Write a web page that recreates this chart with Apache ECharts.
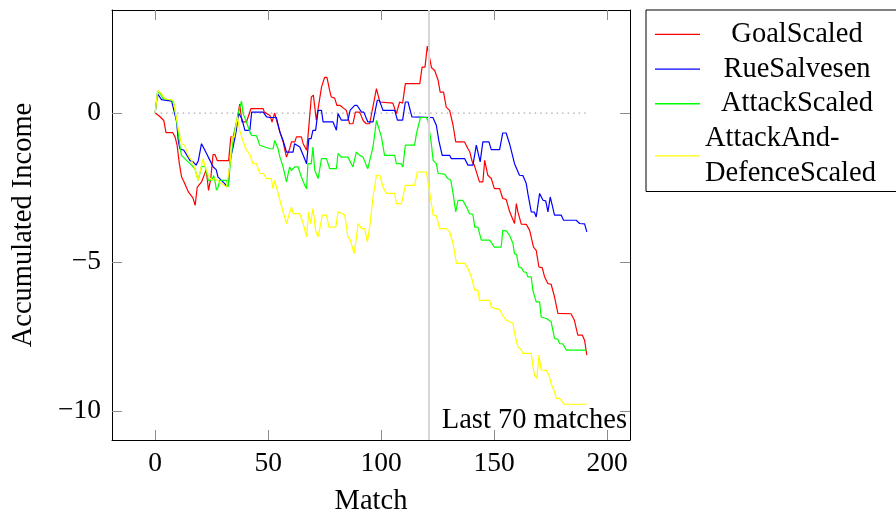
<!DOCTYPE html>
<html>
<head>
<meta charset="utf-8">
<script src="https://cdn.jsdelivr.net/npm/echarts@6/dist/echarts.min.js"></script>
<style>html,body{margin:0;padding:0;background:#fff}#c{width:896px;height:514px}</style>
</head>
<body>
<div id="c"></div>
<script>
// ---- data (match index, accumulated income) ----
const seriesNames = ['GoalScaled', 'RueSalvesen', 'AttackScaled', 'AttackAndDefenceScaled'];
const xTicks = [0, 50, 100, 150, 200];
const yTicks = [-10, -5, 0];
const lastSplitMatch = 121;
const zeroLine = [[0, 0], [191, 0]];

const goalScaled = [[0,0],[1.8,-0.1],[3.8,-0.25],[4.8,-0.66],[7.8,-0.66],[8.8,-0.8],[9.7,-1.08],[10.7,-1.7],[11.7,-2.15],[12.7,-2.3],[14.7,-2.65],[16.7,-2.85],[17.7,-3.1],[18.6,-2.5],[20.6,-2.3],[22.6,-1.9],[23.6,-2.6],[24.6,-2.2],[25.6,-1.4],[26.5,-1.4],[27.5,-1.6],[32.5,-1.6],[33.5,-0.8],[34.5,-0.8],[36.4,-0.2],[37.4,0.3],[38.4,-0.3],[40.4,-0.3],[42.4,0.15],[47.8,0.15],[48.3,0.03],[50.8,-0.08],[51.7,-0.3],[52.9,0],[53.6,-0.2],[55.2,-0.64],[56.6,-0.97],[58.1,-1.48],[58.8,-1.48],[59.5,-1.2],[60.3,-0.97],[61.8,-0.97],[62.5,-0.8],[64.7,-0.8],[65.5,-1.03],[67.0,-1.25],[67.6,-0.8],[69.1,0.54],[70.0,0.6],[71.3,-0.24],[72.0,-0.3],[73.6,0.87],[75.0,1.2],[76.0,1.2],[77.2,0.76],[77.9,0.54],[79.4,0.5],[80.4,0.26],[81.7,0.26],[84.6,0.09],[86.0,-0.36],[87.5,-0.36],[88.6,0.03],[90.5,0.03],[92.0,-0.25],[93.4,-0.36],[94.9,-0.36],[95.7,-0.3],[97.9,0.82],[98.6,0.8],[99.4,0.37],[105.2,0.33],[106.7,-0.02],[108.2,0.37],[109.5,0.33],[110.7,0.99],[117.1,0.99],[118.1,1.54],[119.4,1.54],[120.4,2.25],[121.2,2.25],[122.3,1.52],[123.7,1.43],[125.2,1.1],[126.1,0.7],[127.6,0.7],[128.8,0.2],[130.3,0.09],[131.8,-0.41],[133.0,-0.97],[136.9,-0.97],[138.4,-1.2],[139.2,-1.3],[140.3,-1.64],[141.2,-1.75],[143.5,-2.31],[145.0,-2.31],[145.8,-1.59],[147.2,-2.09],[148.7,-2.2],[150.1,-2.54],[152.4,-2.54],[153.8,-2.87],[155.3,-2.9],[156.8,-3.3],[158.4,-3.6],[159.0,-3.71],[159.8,-3.04],[160.5,-3.32],[162.0,-3.73],[164.2,-3.74],[165.7,-3.94],[166.4,-3.94],[167.4,-4.5],[168.6,-4.61],[169.8,-5.17],[171.3,-5.2],[172.3,-5.5],[173.8,-5.73],[175.2,-5.75],[176.7,-6.17],[178.2,-6.73],[184.0,-6.74],[185.5,-6.96],[187.0,-7.46],[189.0,-7.46],[190.0,-7.63],[191,-8.13]];

const rueSalvesen = [[0,0],[1,0.65],[2.8,0.45],[7.3,0.4],[9.5,-0.3],[10.2,-0.9],[10.9,-1.2],[12.7,-1.25],[15.4,-1.59],[16.8,-1.64],[18.1,-1.75],[19.1,-1.6],[20.5,-1.03],[21.1,-1.05],[22.0,-1.25],[23.5,-1.48],[25.7,-1.81],[27.0,-1.9],[27.8,-2.15],[29.3,-2.26],[30.8,-2.37],[31.6,-2.48],[32.5,-2.3],[33.1,-1.6],[34.5,-1.14],[35.9,-0.58],[36.9,0],[37.7,0.05],[38.4,-0.2],[39.7,-0.58],[41.9,-0.58],[42.7,0.03],[47.8,0.03],[49.3,-0.13],[50.8,-0.15],[53.6,-0.15],[55.2,-0.64],[56.6,-0.92],[58.1,-1.31],[61.0,-1.31],[61.7,-1.03],[64.0,-1.14],[65.5,-1.42],[67.0,-1.7],[68.0,-0.86],[69.0,-0.86],[69.8,-0.58],[71.0,-0.58],[72.1,0.09],[73.6,0.09],[74.3,-0.3],[78.7,-0.3],[80.2,-0.58],[80.9,-0.02],[82.4,-0.24],[85.3,-0.24],[86.3,0.1],[88.3,0.26],[89.3,0.26],[91.3,0.03],[92.3,0.03],[94.1,-0.3],[96.4,-0.3],[98.3,0.43],[99.2,0.43],[100.8,0.09],[106.0,0.09],[107.2,-0.24],[109.5,-0.24],[110.7,0.37],[111.9,0.37],[113.6,-0.13],[122.9,-0.15],[124.4,-0.41],[125.5,-0.92],[127.0,-1.42],[130.3,-1.42],[131.0,-1.53],[136.9,-1.53],[138.4,-1.75],[140.6,-1.75],[142.1,-1.08],[142.8,-1.08],[143.8,-1.64],[145.0,-0.97],[147.7,-0.97],[148.7,-1.23],[152.4,-1.23],[153.8,-0.67],[155.3,-0.67],[156.8,-1.03],[158.3,-1.48],[159.0,-1.7],[161.2,-2.09],[162.7,-2.1],[164.2,-2.37],[164.9,-2.7],[166.4,-3.32],[167.8,-3.33],[168.6,-3.49],[170.1,-2.7],[170.8,-2.7],[171.6,-2.93],[172.8,-2.95],[173.8,-3.32],[174.8,-2.82],[175.7,-3.1],[176.7,-3.43],[179.7,-3.43],[180.7,-3.6],[186.3,-3.6],[187.8,-3.71],[190.0,-3.72],[191,-3.99]];

const attackScaled = [[0,0],[1.1,0.73],[2.3,0.65],[3.5,0.48],[7.3,0.43],[8.3,0.3],[9.5,-0.24],[10.1,-0.58],[10.9,-1.08],[11.6,-1.42],[13.1,-1.53],[14.6,-1.64],[16.1,-1.75],[17.6,-1.87],[19.0,-2.26],[19.6,-2.26],[20.5,-1.81],[22.0,-1.78],[22.6,-1.95],[23.5,-2.26],[25.1,-2.26],[25.9,-2.1],[26.5,-2.3],[27.1,-2.59],[27.8,-2.5],[28.6,-2.26],[31.6,-2.26],[32.3,-2.48],[33.1,-1.81],[34.5,-0.86],[35.2,-0.84],[36.7,-0.02],[38.2,0.4],[38.9,-0.02],[40.4,-0.3],[41.9,-0.64],[42.7,-0.75],[44.8,-0.76],[46.3,-1.08],[48.5,-1.14],[50.8,-1.2],[52.2,-1.2],[52.9,-0.92],[53.6,-0.92],[54.4,-1.2],[55.2,-1.48],[56.6,-1.81],[58.1,-2.31],[58.8,-2.31],[59.5,-1.81],[60.3,-1.93],[61.0,-1.95],[61.7,-1.81],[63.2,-1.81],[64.7,-2.15],[66.2,-2.43],[67.0,-2.54],[67.6,-1.7],[69.1,-1.7],[69.8,-1.14],[70.6,-1.92],[72.1,-2.2],[72.8,-2.2],[73.6,-1.53],[75.8,-1.53],[77.2,-1.87],[80.2,-1.87],[80.9,-1.36],[82.4,-1.48],[85.3,-1.48],[87.5,-1.81],[89.0,-1.31],[90.5,-1.42],[92.0,-1.48],[93.4,-1.75],[94.1,-1.87],[94.9,-1.87],[96.4,-1.14],[97.9,-0.25],[98.7,-0.22],[100.1,-0.8],[101.5,-1.42],[106.0,-1.42],[106.7,-1.7],[108.8,-1.7],[109.6,-1.81],[110.7,-1.08],[114.8,-1.08],[115.6,-0.69],[117.4,-0.15],[120.0,-0.15],[120.7,-0.25],[122.2,-1.03],[123.0,-1.59],[124.4,-1.7],[125.2,-2.03],[125.8,-2.05],[128.1,-2.05],[129.5,-2.2],[130.8,-2.25],[131.8,-2.7],[133.0,-3.32],[134.0,-2.93],[136.1,-2.93],[137.7,-3.15],[139.1,-3.38],[140.6,-3.4],[141.4,-3.83],[142.8,-3.83],[144.3,-4.27],[148.0,-4.27],[150.1,-4.5],[153.1,-4.5],[153.8,-3.94],[155.3,-3.96],[156.8,-4.1],[158.3,-4.38],[159.0,-4.72],[159.9,-4.75],[160.9,-5.17],[162.1,-5.2],[163.0,-5.33],[164.2,-5.35],[164.9,-5.5],[166.4,-5.5],[167.1,-5.95],[168.6,-6.34],[170.1,-6.34],[170.8,-6.85],[173.1,-6.9],[175.2,-7.01],[176.7,-7.57],[178.2,-7.6],[178.9,-7.74],[180.4,-7.75],[181.9,-7.96],[191,-7.96]];

const attackAndDefenceScaled = [[0,0],[1.1,0.76],[2.8,0.65],[4.3,0.48],[8.0,0.43],[10.1,-0.47],[11.6,-1.03],[13.1,-1.08],[14.6,-1.42],[16.1,-1.59],[17.6,-1.87],[19.0,-2.26],[20.1,-1.9],[21.2,-1.53],[22.1,-1.8],[23.5,-2.09],[25.0,-2.26],[26.5,-2.2],[29.3,-2.37],[31.6,-2.48],[32.3,-2.52],[33.1,-1.7],[34.1,-0.8],[35.0,-0.8],[36.4,-0.13],[37.4,-0.58],[38.9,-0.95],[40.4,-1.25],[41.9,-1.4],[43.3,-1.7],[44.8,-1.7],[46.3,-2.03],[47.8,-2.03],[49.3,-2.2],[51.4,-2.2],[52.1,-2.54],[52.9,-2.26],[53.6,-2.26],[55.2,-2.93],[56.6,-3.32],[58.1,-3.71],[58.8,-3.71],[60.3,-3.15],[61.0,-3.38],[64.0,-3.38],[65.5,-3.71],[67.0,-4.16],[67.9,-3.32],[68.7,-3.71],[69.8,-3.21],[71.0,-3.94],[72.1,-4.16],[72.8,-4.16],[74.0,-3.43],[75.8,-3.43],[76.9,-3.83],[79.9,-3.83],[80.9,-3.32],[82.9,-3.38],[83.9,-3.43],[85.3,-4.16],[86.3,-4.25],[88.0,-4.72],[89.0,-4.21],[89.8,-3.71],[91.3,-3.88],[92.7,-3.88],[93.9,-4.33],[94.9,-3.83],[96.4,-2.82],[97.9,-2.09],[99.4,-2.09],[100.8,-2.48],[102.3,-2.7],[106.0,-2.7],[106.7,-3.04],[109.0,-3.04],[109.7,-3.1],[110.7,-2.43],[114.8,-2.43],[116.0,-1.98],[120.0,-1.98],[121.8,-2.82],[123.0,-3.43],[124.4,-3.45],[125.8,-3.88],[128.8,-3.88],[130.3,-3.99],[131.8,-4.38],[133.3,-5.05],[136.9,-5.05],[138.4,-5.22],[139.9,-5.5],[140.6,-5.55],[141.4,-5.95],[142.8,-5.95],[143.5,-6.29],[148.0,-6.29],[148.7,-6.51],[150.0,-6.55],[152.4,-6.6],[153.8,-6.8],[155.3,-6.95],[156.8,-7.01],[158.3,-7.05],[159.0,-7.4],[160.5,-7.85],[162.0,-7.96],[162.7,-8.07],[166.4,-8.07],[167.1,-8.47],[167.8,-8.8],[168.9,-8.91],[169.8,-8.13],[170.8,-8.63],[173.1,-8.65],[174.2,-8.8],[175.2,-9.08],[176.7,-9.36],[177.5,-9.58],[178.9,-9.58],[181.1,-9.78],[191,-9.78]];

// ---- chart ----
const FONT = "'Liberation Serif', 'Times New Roman', serif";
const colors = ['#ff0000', '#0000ff', '#00ff00', '#ffff00'];
const seriesData = [goalScaled, rueSalvesen, attackScaled, attackAndDefenceScaled];
const fmtNum = v => (v < 0 ? '\u2212' + Math.abs(v) : String(v));
const xMin = -19.1, xMax = 210.1, yMin = -10.98, yMax = 3.46;
const tickStyle = { color: '#8c8c8c', width: 1 };
const LH = 34.7;

const chart = echarts.init(document.getElementById('c'), null, { renderer: 'canvas' });
const option = {
  animation: false,
  backgroundColor: '#fff',
  grid: { left: 112, right: 266, top: 10, bottom: 74, containLabel: false, outerBoundsMode: 'none' },
  xAxis: [
    {
      type: 'value', min: xMin, max: xMax, position: 'bottom',
      axisLine: { show: true, onZero: false, lineStyle: { color: '#000', width: 1 } },
      axisTick: { show: true, inside: true, length: 10, customValues: xTicks.concat([lastSplitMatch]), lineStyle: tickStyle },
      axisLabel: { customValues: xTicks, formatter: fmtNum, fontFamily: FONT, fontSize: 27.5, color: '#000', margin: 10 },
      splitLine: { show: false },
      name: 'Match', nameLocation: 'middle', nameGap: 47,
      nameTextStyle: { fontFamily: FONT, fontSize: 28.5, color: '#000' }
    },
    {
      type: 'value', min: xMin, max: xMax, position: 'top',
      axisLine: { show: true, onZero: false, lineStyle: { color: '#000', width: 1 } },
      axisTick: { show: true, inside: true, length: 10, customValues: xTicks.concat([lastSplitMatch]), lineStyle: tickStyle },
      axisLabel: { show: false },
      splitLine: { show: false }
    }
  ],
  yAxis: [
    {
      type: 'value', min: yMin, max: yMax, position: 'left',
      axisLine: { show: true, onZero: false, lineStyle: { color: '#000', width: 1 } },
      axisTick: { show: true, inside: true, length: 10, customValues: yTicks, lineStyle: tickStyle },
      axisLabel: { customValues: yTicks, formatter: fmtNum, fontFamily: FONT, fontSize: 27.5, color: '#000', margin: 11 },
      splitLine: { show: false },
      name: 'Accumulated Income', nameLocation: 'middle', nameGap: 74, nameRotate: 90,
      nameTextStyle: { fontFamily: FONT, fontSize: 28.5, color: '#000' }
    },
    {
      type: 'value', min: yMin, max: yMax, position: 'right',
      axisLine: { show: true, onZero: false, lineStyle: { color: '#000', width: 1 } },
      axisTick: { show: true, inside: true, length: 10, customValues: yTicks, lineStyle: tickStyle },
      axisLabel: { show: false },
      splitLine: { show: false }
    }
  ],
  legend: {
    orient: 'vertical', left: 646, top: 10,
    padding: [7, 10, 1, 9], itemGap: 0, itemWidth: 45, itemHeight: 1.3,
    icon: 'rect',
    borderColor: '#000', borderWidth: 1, borderRadius: 0,
    data: seriesNames,
    formatter: function (name) {
      if (name === 'AttackAndDefenceScaled') return '{l|AttackAnd-}\n{l|DefenceScaled}';
      return '{c|' + name + '}';
    },
    textStyle: {
      fontFamily: FONT, fontSize: 28.5, color: '#000', lineHeight: LH,
      rich: {
        c: { width: 184, align: 'center', lineHeight: LH, height: LH, fontFamily: FONT, fontSize: 28.5, color: '#000' },
        l: { width: 184, align: 'left', lineHeight: LH, height: LH, fontFamily: FONT, fontSize: 28.5, color: '#000' }
      }
    }
  },
  graphic: [
    {
      type: 'text', z: 100,
      style: { x: 627, y: 421, text: 'Last 70 matches', textAlign: 'right', textVerticalAlign: 'middle',
               font: "28.5px 'Liberation Serif', 'Times New Roman', serif", fill: '#000' }
    }
  ],
  series: [
    {
      type: 'line', name: 'zero', data: zeroLine, symbol: 'none', silent: true, z: 1,
      lineStyle: { color: '#aaaaaa', width: 1.3, type: [1.5, 4] },
      markLine: {
        silent: true, symbol: 'none', label: { show: false },
        lineStyle: { color: '#d6d6d6', width: 2, type: 'solid' },
        data: [{ xAxis: lastSplitMatch }]
      }
    }
  ].concat(seriesNames.map((n, i) => ({
    type: 'line', name: n, data: seriesData[i], symbol: 'none', showSymbol: false,
    z: 2 + i, lineStyle: { color: colors[i], width: 1.2 }, itemStyle: { color: colors[i] }
  })))
};
chart.setOption(option);
</script>
</body>
</html>
